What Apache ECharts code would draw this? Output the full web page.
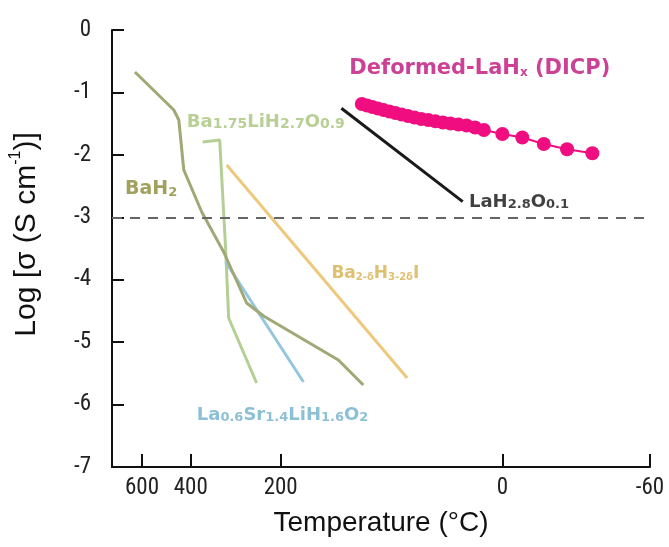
<!DOCTYPE html>
<html>
<head>
<meta charset="utf-8">
<script src="https://cdn.jsdelivr.net/npm/echarts@6/dist/echarts.min.js"></script>
<style>
html, body { margin: 0; padding: 0; background: #fff; }
#chart { width: 669px; height: 547px; }
</style>
</head>
<body>
<div id="chart"></div>
<script>
// x = 1000/T (K^-1), y = log(sigma)
var tickTempsC = [600, 400, 200, 0, -60];

var bah2 = [[1.0961, -0.673], [1.3676, -1.281], [1.4024, -1.442], [1.4372, -2.243], [1.5625, -2.915],
            [1.7156, -3.556], [1.8757, -4.373], [1.9941, -4.581], [2.5162, -5.286], [2.6902, -5.686]];
var ba175 = [[1.5694, -1.794], [1.6878, -1.762], [1.6948, -1.778], [1.7296, -3.524], [1.7504, -4.613], [1.9454, -5.654]];
var la06 = [[1.7296, -3.716], [2.2726, -5.638]];
var ba2d = [[1.7365, -2.162], [2.9965, -5.574]];
var lah28 = [[2.5371, -1.254], [3.3843, -2.750]];

var deformedTempC = [100, 95, 90, 85, 80, 75, 70, 65, 60, 55, 50, 45, 40, 35, 30, 25, 20, 15, 10, 0, -10, -20, -30, -40];
var deformedLogSigma = [-1.185, -1.209, -1.233, -1.257, -1.281, -1.305, -1.330, -1.354, -1.378, -1.402, -1.426, -1.442,
                        -1.462, -1.482, -1.498, -1.514, -1.530, -1.562, -1.602, -1.666, -1.722, -1.826, -1.911, -1.975];

function invT(c) { return 1000 / (c + 273.15); }

var deformed = deformedTempC.map(function (c, i) { return [invT(c), deformedLogSigma[i]]; });

var font = "'Liberation Sans', Arial, sans-serif";
var cond = "'Roboto Condensed', 'DejaVu Sans Condensed', sans-serif";
var wide = "'DejaVu Sans', 'Liberation Sans', sans-serif";

function richFor(color, size, sub) {
    return {
        b: { color: color, fontSize: size, fontWeight: 'bold', fontFamily: wide, lineHeight: 24, verticalAlign: 'bottom' },
        s: { color: color, fontSize: sub, fontWeight: 'bold', fontFamily: wide, lineHeight: sub, verticalAlign: 'bottom' }
    };
}

// 曲线标注
var notes = [
    { text: '{b|Deformed-LaH}{s|x}{b| (DICP)}', at: [2.5928, -0.593], color: '#c0127a', size: 21, sub: 12 },
    { text: '{b|LaH}{s|2.8}{b|O}{s|0.1}', at: [3.4281, -2.707], color: '#111111', size: 18, sub: 13 },
    { text: '{b|Ba}{s|1.75}{b|LiH}{s|2.7}{b|O}{s|0.9}', at: [1.4581, -1.426], color: '#a6c47a', size: 18, sub: 14 },
    { text: '{b|BaH}{s|2}', at: [1.0265, -2.515], color: '#8a8a34', size: 19, sub: 13 },
    { text: '{b|Ba}{s|2-δ}{b|H}{s|3-2δ}{b|I}', at: [2.4675, -3.844], color: '#d6b04c', size: 17, sub: 10 },
    { text: '{b|La}{s|0.6}{b|Sr}{s|1.4}{b|LiH}{s|1.6}{b|O}{s|2}', at: [1.5277, -6.119], color: '#6fb0cc', size: 18, sub: 13 }
];

var chart = echarts.init(document.getElementById('chart'));

function lineSeries(data, color, z) {
    return {
        type: 'line',
        data: data,
        showSymbol: false,
        z: z,
        lineStyle: { color: color, width: 3 }
    };
}

var option = {
    animation: false,
    grid: { left: 110, right: 19, top: 30, bottom: 80 },
    xAxis: {
        type: 'value',
        min: 0.936,
        max: invT(-60),
        name: 'Temperature (°C)',
        nameLocation: 'middle',
        nameGap: 42,
        nameTextStyle: { fontSize: 28, color: '#111', fontFamily: font },
        axisLine: { onZero: false, lineStyle: { color: '#111', width: 2 } },
        axisTick: { inside: true, length: 13, lineStyle: { color: '#111', width: 2 },
                    customValues: tickTempsC.map(invT) },
        axisLabel: {
            customValues: tickTempsC.map(invT),
            margin: 10, fontSize: 23, color: '#222', fontFamily: cond,
            formatter: function (v) { return String(Math.round(1000 / v - 273.15)); }
        },
        splitLine: { show: false }
    },
    yAxis: {
        type: 'value',
        min: -7,
        max: 0,
        interval: 1,
        name: '{n|Log [σ (S cm}{p|-1}{n|)]}',
        nameLocation: 'middle',
        nameGap: 70,
        nameTextStyle: {
            padding: [0, 0, 0, 28],
            rich: {
                n: { fontSize: 30, color: '#111', fontFamily: font, lineHeight: 34, verticalAlign: 'bottom' },
                p: { fontSize: 16, color: '#111', fontFamily: font, lineHeight: 34, verticalAlign: 'top' }
            }
        },
        axisLine: { show: true, onZero: false, lineStyle: { color: '#111', width: 2 } },
        axisTick: { show: true, inside: true, length: 12, lineStyle: { color: '#111', width: 2 } },
        axisLabel: { margin: 21, fontSize: 23, color: '#222', fontFamily: cond },
        splitLine: { show: false }
    },
    series: [
        lineSeries(ba175, '#b3cf94', 2),
        lineSeries(la06, '#94c6de', 2),
        lineSeries(ba2d, '#eec87c', 2),
        lineSeries(bah2, '#a2a776', 3),
        lineSeries(lah28, '#1a1a1a', 3),
        {
            type: 'line',
            data: deformed,
            symbol: 'circle',
            symbolSize: 14,
            z: 4,
            itemStyle: { color: '#ef0d7f' },
            lineStyle: { color: '#ef0d7f', width: 2 },
            markLine: {
                silent: true,
                symbol: 'none',
                label: { show: false },
                lineStyle: { color: '#666', width: 2, type: [10, 8] },
                data: [{ yAxis: -3 }]
            }
        },
        {
            type: 'scatter',
            symbolSize: 0,
            silent: true,
            z: 5,
            data: notes.map(function (n) {
                return {
                    value: n.at,
                    label: {
                        show: true, position: 'right', distance: 0,
                        formatter: n.text, rich: richFor(n.color, n.size, n.sub)
                    }
                };
            })
        }
    ]
};

chart.setOption(option);
</script>
</body>
</html>
